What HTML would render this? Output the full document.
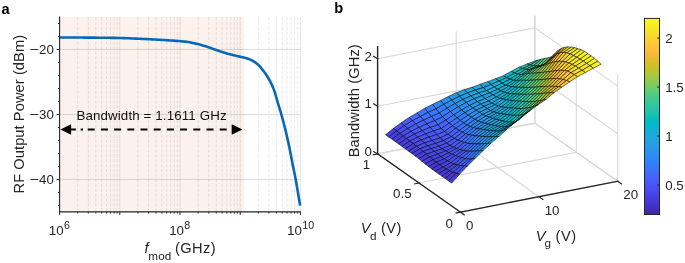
<!DOCTYPE html>
<html lang="en"><head><meta charset="utf-8"><title>Figure</title>
<style>
html,body{margin:0;padding:0;background:#fff;}
body{width:685px;height:263px;overflow:hidden;}
svg{display:block;font-family:"Liberation Sans", Arial, Helvetica, sans-serif;}
</style></head>
<body>
<svg width="685" height="263" viewBox="0 0 685 263">
<rect width="685" height="263" fill="#fff"/>
<rect x="59.6" y="17.0" width="184.4" height="194.9" fill="#fbf2ee"/>
<line x1="59.6" x2="300.4" y1="49.48" y2="49.48" stroke="#000" stroke-opacity="0.13" stroke-width="1"/>
<line x1="59.6" x2="300.4" y1="114.45" y2="114.45" stroke="#000" stroke-opacity="0.13" stroke-width="1"/>
<line x1="59.6" x2="300.4" y1="179.42" y2="179.42" stroke="#000" stroke-opacity="0.13" stroke-width="1"/>
<line x1="119.80" x2="119.80" y1="17.0" y2="211.9" stroke="#000" stroke-opacity="0.05" stroke-width="1"/>
<line x1="119.80" x2="119.80" y1="17.0" y2="211.9" stroke="#000" stroke-opacity="0.09" stroke-width="0.8" stroke-dasharray="3.4 1.5"/>
<line x1="180.00" x2="180.00" y1="17.0" y2="211.9" stroke="#000" stroke-opacity="0.05" stroke-width="1"/>
<line x1="180.00" x2="180.00" y1="17.0" y2="211.9" stroke="#000" stroke-opacity="0.09" stroke-width="0.8" stroke-dasharray="3.4 1.5"/>
<line x1="240.20" x2="240.20" y1="17.0" y2="211.9" stroke="#000" stroke-opacity="0.05" stroke-width="1"/>
<line x1="240.20" x2="240.20" y1="17.0" y2="211.9" stroke="#000" stroke-opacity="0.09" stroke-width="0.8" stroke-dasharray="3.4 1.5"/>
<line x1="300.40" x2="300.40" y1="17.0" y2="211.9" stroke="#000" stroke-opacity="0.05" stroke-width="1"/>
<line x1="300.40" x2="300.40" y1="17.0" y2="211.9" stroke="#000" stroke-opacity="0.09" stroke-width="0.8" stroke-dasharray="3.4 1.5"/>
<line x1="77.72" x2="77.72" y1="17.0" y2="211.9" stroke="#000" stroke-opacity="0.115" stroke-width="0.8" stroke-dasharray="3.4 1.5"/>
<line x1="88.32" x2="88.32" y1="17.0" y2="211.9" stroke="#000" stroke-opacity="0.115" stroke-width="0.8" stroke-dasharray="3.4 1.5"/>
<line x1="95.84" x2="95.84" y1="17.0" y2="211.9" stroke="#000" stroke-opacity="0.115" stroke-width="0.8" stroke-dasharray="3.4 1.5"/>
<line x1="101.68" x2="101.68" y1="17.0" y2="211.9" stroke="#000" stroke-opacity="0.115" stroke-width="0.8" stroke-dasharray="3.4 1.5"/>
<line x1="106.44" x2="106.44" y1="17.0" y2="211.9" stroke="#000" stroke-opacity="0.115" stroke-width="0.8" stroke-dasharray="3.4 1.5"/>
<line x1="110.47" x2="110.47" y1="17.0" y2="211.9" stroke="#000" stroke-opacity="0.115" stroke-width="0.8" stroke-dasharray="3.4 1.5"/>
<line x1="113.97" x2="113.97" y1="17.0" y2="211.9" stroke="#000" stroke-opacity="0.115" stroke-width="0.8" stroke-dasharray="3.4 1.5"/>
<line x1="117.05" x2="117.05" y1="17.0" y2="211.9" stroke="#000" stroke-opacity="0.115" stroke-width="0.8" stroke-dasharray="3.4 1.5"/>
<line x1="137.92" x2="137.92" y1="17.0" y2="211.9" stroke="#000" stroke-opacity="0.115" stroke-width="0.8" stroke-dasharray="3.4 1.5"/>
<line x1="148.52" x2="148.52" y1="17.0" y2="211.9" stroke="#000" stroke-opacity="0.115" stroke-width="0.8" stroke-dasharray="3.4 1.5"/>
<line x1="156.04" x2="156.04" y1="17.0" y2="211.9" stroke="#000" stroke-opacity="0.115" stroke-width="0.8" stroke-dasharray="3.4 1.5"/>
<line x1="161.88" x2="161.88" y1="17.0" y2="211.9" stroke="#000" stroke-opacity="0.115" stroke-width="0.8" stroke-dasharray="3.4 1.5"/>
<line x1="166.64" x2="166.64" y1="17.0" y2="211.9" stroke="#000" stroke-opacity="0.115" stroke-width="0.8" stroke-dasharray="3.4 1.5"/>
<line x1="170.67" x2="170.67" y1="17.0" y2="211.9" stroke="#000" stroke-opacity="0.115" stroke-width="0.8" stroke-dasharray="3.4 1.5"/>
<line x1="174.17" x2="174.17" y1="17.0" y2="211.9" stroke="#000" stroke-opacity="0.115" stroke-width="0.8" stroke-dasharray="3.4 1.5"/>
<line x1="177.25" x2="177.25" y1="17.0" y2="211.9" stroke="#000" stroke-opacity="0.115" stroke-width="0.8" stroke-dasharray="3.4 1.5"/>
<line x1="198.12" x2="198.12" y1="17.0" y2="211.9" stroke="#000" stroke-opacity="0.115" stroke-width="0.8" stroke-dasharray="3.4 1.5"/>
<line x1="208.72" x2="208.72" y1="17.0" y2="211.9" stroke="#000" stroke-opacity="0.115" stroke-width="0.8" stroke-dasharray="3.4 1.5"/>
<line x1="216.24" x2="216.24" y1="17.0" y2="211.9" stroke="#000" stroke-opacity="0.115" stroke-width="0.8" stroke-dasharray="3.4 1.5"/>
<line x1="222.08" x2="222.08" y1="17.0" y2="211.9" stroke="#000" stroke-opacity="0.115" stroke-width="0.8" stroke-dasharray="3.4 1.5"/>
<line x1="226.84" x2="226.84" y1="17.0" y2="211.9" stroke="#000" stroke-opacity="0.115" stroke-width="0.8" stroke-dasharray="3.4 1.5"/>
<line x1="230.87" x2="230.87" y1="17.0" y2="211.9" stroke="#000" stroke-opacity="0.115" stroke-width="0.8" stroke-dasharray="3.4 1.5"/>
<line x1="234.37" x2="234.37" y1="17.0" y2="211.9" stroke="#000" stroke-opacity="0.115" stroke-width="0.8" stroke-dasharray="3.4 1.5"/>
<line x1="237.45" x2="237.45" y1="17.0" y2="211.9" stroke="#000" stroke-opacity="0.115" stroke-width="0.8" stroke-dasharray="3.4 1.5"/>
<line x1="258.32" x2="258.32" y1="17.0" y2="211.9" stroke="#000" stroke-opacity="0.115" stroke-width="0.8" stroke-dasharray="3.4 1.5"/>
<line x1="268.92" x2="268.92" y1="17.0" y2="211.9" stroke="#000" stroke-opacity="0.115" stroke-width="0.8" stroke-dasharray="3.4 1.5"/>
<line x1="276.44" x2="276.44" y1="17.0" y2="211.9" stroke="#000" stroke-opacity="0.115" stroke-width="0.8" stroke-dasharray="3.4 1.5"/>
<line x1="282.28" x2="282.28" y1="17.0" y2="211.9" stroke="#000" stroke-opacity="0.115" stroke-width="0.8" stroke-dasharray="3.4 1.5"/>
<line x1="287.04" x2="287.04" y1="17.0" y2="211.9" stroke="#000" stroke-opacity="0.115" stroke-width="0.8" stroke-dasharray="3.4 1.5"/>
<line x1="291.07" x2="291.07" y1="17.0" y2="211.9" stroke="#000" stroke-opacity="0.115" stroke-width="0.8" stroke-dasharray="3.4 1.5"/>
<line x1="294.57" x2="294.57" y1="17.0" y2="211.9" stroke="#000" stroke-opacity="0.115" stroke-width="0.8" stroke-dasharray="3.4 1.5"/>
<line x1="297.65" x2="297.65" y1="17.0" y2="211.9" stroke="#000" stroke-opacity="0.115" stroke-width="0.8" stroke-dasharray="3.4 1.5"/>
<path d="M59.60,37.50 L61.11,37.50 L62.63,37.50 L64.14,37.50 L65.65,37.51 L67.17,37.51 L68.68,37.51 L70.19,37.52 L71.71,37.52 L73.22,37.53 L74.73,37.54 L76.25,37.54 L77.76,37.55 L79.27,37.56 L80.78,37.57 L82.30,37.57 L83.81,37.58 L85.32,37.59 L86.84,37.60 L88.35,37.61 L89.86,37.62 L91.38,37.63 L92.89,37.65 L94.40,37.66 L95.92,37.67 L97.43,37.68 L98.94,37.69 L100.46,37.70 L101.97,37.72 L103.48,37.73 L105.00,37.75 L106.51,37.77 L108.02,37.79 L109.54,37.81 L111.05,37.83 L112.56,37.86 L114.08,37.88 L115.59,37.91 L117.10,37.94 L118.62,37.97 L120.13,38.00 L121.64,38.04 L123.15,38.08 L124.67,38.13 L126.18,38.19 L127.69,38.25 L129.21,38.31 L130.72,38.37 L132.23,38.44 L133.75,38.51 L135.26,38.58 L136.77,38.65 L138.29,38.72 L139.80,38.79 L141.31,38.86 L142.83,38.93 L144.34,39.00 L145.85,39.07 L147.37,39.15 L148.88,39.22 L150.39,39.30 L151.91,39.38 L153.42,39.46 L154.93,39.54 L156.45,39.63 L157.96,39.71 L159.47,39.80 L160.98,39.89 L162.50,39.98 L164.01,40.07 L165.52,40.16 L167.04,40.26 L168.55,40.35 L170.06,40.44 L171.58,40.53 L173.09,40.63 L174.60,40.73 L176.12,40.84 L177.63,40.95 L179.14,41.07 L180.66,41.20 L182.17,41.34 L183.68,41.49 L185.20,41.65 L186.71,41.84 L188.22,42.06 L189.74,42.33 L191.25,42.62 L192.76,42.94 L194.28,43.27 L195.79,43.62 L197.30,43.97 L198.82,44.35 L200.33,44.76 L201.84,45.19 L203.35,45.64 L204.87,46.11 L206.38,46.59 L207.89,47.07 L209.41,47.56 L210.92,48.08 L212.43,48.62 L213.95,49.17 L215.46,49.72 L216.97,50.27 L218.49,50.80 L220.00,51.30 L221.51,51.79 L223.03,52.26 L224.54,52.73 L226.05,53.19 L227.57,53.63 L229.08,54.05 L230.59,54.46 L232.11,54.84 L233.62,55.21 L235.13,55.57 L236.65,55.92 L238.16,56.27 L239.67,56.62 L241.18,56.97 L242.70,57.29 L244.21,57.64 L245.72,58.04 L247.24,58.50 L248.75,59.03 L250.26,59.64 L251.78,60.33 L253.29,61.14 L254.80,62.08 L256.32,63.17 L257.83,64.42 L259.34,65.96 L260.86,67.72 L262.37,69.59 L263.88,71.51 L265.40,73.55 L266.91,75.78 L268.42,78.24 L269.94,80.95 L271.45,83.96 L272.96,87.36 L274.48,91.28 L275.99,96.42 L277.50,101.67 L279.02,106.62 L280.53,111.63 L282.04,116.94 L283.55,122.49 L285.07,128.37 L286.58,134.69 L288.09,141.40 L289.61,148.55 L291.12,156.42 L292.63,164.19 L294.15,171.56 L295.66,179.33 L297.17,188.06 L298.69,197.00 L300.20,205.60" fill="none" stroke="#0868b4" stroke-width="2.6" stroke-linejoin="round" stroke-linecap="butt"/>
<path d="M59.6,16.6 V211.9 H300.9" fill="none" stroke="#262626" stroke-width="1.1"/>
<line x1="57.90" x2="59.6" y1="205.40" y2="205.40" stroke="#262626" stroke-width="1"/>
<line x1="57.90" x2="59.6" y1="192.41" y2="192.41" stroke="#262626" stroke-width="1"/>
<line x1="56.60" x2="59.6" y1="179.42" y2="179.42" stroke="#262626" stroke-width="1"/>
<line x1="57.90" x2="59.6" y1="166.42" y2="166.42" stroke="#262626" stroke-width="1"/>
<line x1="57.90" x2="59.6" y1="153.43" y2="153.43" stroke="#262626" stroke-width="1"/>
<line x1="57.90" x2="59.6" y1="140.44" y2="140.44" stroke="#262626" stroke-width="1"/>
<line x1="57.90" x2="59.6" y1="127.44" y2="127.44" stroke="#262626" stroke-width="1"/>
<line x1="56.60" x2="59.6" y1="114.45" y2="114.45" stroke="#262626" stroke-width="1"/>
<line x1="57.90" x2="59.6" y1="101.46" y2="101.46" stroke="#262626" stroke-width="1"/>
<line x1="57.90" x2="59.6" y1="88.46" y2="88.46" stroke="#262626" stroke-width="1"/>
<line x1="57.90" x2="59.6" y1="75.47" y2="75.47" stroke="#262626" stroke-width="1"/>
<line x1="57.90" x2="59.6" y1="62.48" y2="62.48" stroke="#262626" stroke-width="1"/>
<line x1="56.60" x2="59.6" y1="49.48" y2="49.48" stroke="#262626" stroke-width="1"/>
<line x1="57.90" x2="59.6" y1="36.49" y2="36.49" stroke="#262626" stroke-width="1"/>
<line x1="57.90" x2="59.6" y1="23.50" y2="23.50" stroke="#262626" stroke-width="1"/>
<line x1="59.60" x2="59.60" y1="211.9" y2="214.90" stroke="#262626" stroke-width="1"/>
<line x1="77.72" x2="77.72" y1="211.9" y2="213.60" stroke="#262626" stroke-width="0.9"/>
<line x1="88.32" x2="88.32" y1="211.9" y2="213.60" stroke="#262626" stroke-width="0.9"/>
<line x1="95.84" x2="95.84" y1="211.9" y2="213.60" stroke="#262626" stroke-width="0.9"/>
<line x1="101.68" x2="101.68" y1="211.9" y2="213.60" stroke="#262626" stroke-width="0.9"/>
<line x1="106.44" x2="106.44" y1="211.9" y2="213.60" stroke="#262626" stroke-width="0.9"/>
<line x1="110.47" x2="110.47" y1="211.9" y2="213.60" stroke="#262626" stroke-width="0.9"/>
<line x1="113.97" x2="113.97" y1="211.9" y2="213.60" stroke="#262626" stroke-width="0.9"/>
<line x1="117.05" x2="117.05" y1="211.9" y2="213.60" stroke="#262626" stroke-width="0.9"/>
<line x1="119.80" x2="119.80" y1="211.9" y2="214.90" stroke="#262626" stroke-width="1"/>
<line x1="137.92" x2="137.92" y1="211.9" y2="213.60" stroke="#262626" stroke-width="0.9"/>
<line x1="148.52" x2="148.52" y1="211.9" y2="213.60" stroke="#262626" stroke-width="0.9"/>
<line x1="156.04" x2="156.04" y1="211.9" y2="213.60" stroke="#262626" stroke-width="0.9"/>
<line x1="161.88" x2="161.88" y1="211.9" y2="213.60" stroke="#262626" stroke-width="0.9"/>
<line x1="166.64" x2="166.64" y1="211.9" y2="213.60" stroke="#262626" stroke-width="0.9"/>
<line x1="170.67" x2="170.67" y1="211.9" y2="213.60" stroke="#262626" stroke-width="0.9"/>
<line x1="174.17" x2="174.17" y1="211.9" y2="213.60" stroke="#262626" stroke-width="0.9"/>
<line x1="177.25" x2="177.25" y1="211.9" y2="213.60" stroke="#262626" stroke-width="0.9"/>
<line x1="180.00" x2="180.00" y1="211.9" y2="214.90" stroke="#262626" stroke-width="1"/>
<line x1="198.12" x2="198.12" y1="211.9" y2="213.60" stroke="#262626" stroke-width="0.9"/>
<line x1="208.72" x2="208.72" y1="211.9" y2="213.60" stroke="#262626" stroke-width="0.9"/>
<line x1="216.24" x2="216.24" y1="211.9" y2="213.60" stroke="#262626" stroke-width="0.9"/>
<line x1="222.08" x2="222.08" y1="211.9" y2="213.60" stroke="#262626" stroke-width="0.9"/>
<line x1="226.84" x2="226.84" y1="211.9" y2="213.60" stroke="#262626" stroke-width="0.9"/>
<line x1="230.87" x2="230.87" y1="211.9" y2="213.60" stroke="#262626" stroke-width="0.9"/>
<line x1="234.37" x2="234.37" y1="211.9" y2="213.60" stroke="#262626" stroke-width="0.9"/>
<line x1="237.45" x2="237.45" y1="211.9" y2="213.60" stroke="#262626" stroke-width="0.9"/>
<line x1="240.20" x2="240.20" y1="211.9" y2="214.90" stroke="#262626" stroke-width="1"/>
<line x1="258.32" x2="258.32" y1="211.9" y2="213.60" stroke="#262626" stroke-width="0.9"/>
<line x1="268.92" x2="268.92" y1="211.9" y2="213.60" stroke="#262626" stroke-width="0.9"/>
<line x1="276.44" x2="276.44" y1="211.9" y2="213.60" stroke="#262626" stroke-width="0.9"/>
<line x1="282.28" x2="282.28" y1="211.9" y2="213.60" stroke="#262626" stroke-width="0.9"/>
<line x1="287.04" x2="287.04" y1="211.9" y2="213.60" stroke="#262626" stroke-width="0.9"/>
<line x1="291.07" x2="291.07" y1="211.9" y2="213.60" stroke="#262626" stroke-width="0.9"/>
<line x1="294.57" x2="294.57" y1="211.9" y2="213.60" stroke="#262626" stroke-width="0.9"/>
<line x1="297.65" x2="297.65" y1="211.9" y2="213.60" stroke="#262626" stroke-width="0.9"/>
<line x1="300.40" x2="300.40" y1="211.9" y2="214.90" stroke="#262626" stroke-width="1"/>
<text x="29.4" y="54.28" font-size="13.33" fill="#262626"><tspan textLength="9.6" lengthAdjust="spacingAndGlyphs">−</tspan><tspan x="39.0">20</tspan></text>
<text x="29.4" y="119.25" font-size="13.33" fill="#262626"><tspan textLength="9.6" lengthAdjust="spacingAndGlyphs">−</tspan><tspan x="39.0">30</tspan></text>
<text x="29.4" y="184.22" font-size="13.33" fill="#262626"><tspan textLength="9.6" lengthAdjust="spacingAndGlyphs">−</tspan><tspan x="39.0">40</tspan></text>
<text x="48.77" y="234.9" font-size="13.33" fill="#262626">10<tspan dx="0.3" dy="-6.0" font-size="10.67">6</tspan></text>
<text x="169.17" y="234.9" font-size="13.33" fill="#262626">10<tspan dx="0.3" dy="-6.0" font-size="10.67">8</tspan></text>
<text x="287.10" y="234.9" font-size="13.33" fill="#262626">10<tspan dx="0.3" dy="-6.0" font-size="10.67">10</tspan></text>
<text transform="translate(23.9,193.5) rotate(-90)" font-size="14.67" textLength="158.6" lengthAdjust="spacing" fill="#262626">RF Output Power (dBm)</text>
<text y="252.7" font-size="14.67" fill="#262626"><tspan x="144.6" font-style="italic">f</tspan><tspan x="148.2" dy="7.3" font-size="11.73" textLength="23.2" lengthAdjust="spacing">mod</tspan><tspan x="175.0" dy="-7.3" font-size="14.67" textLength="40.6" lengthAdjust="spacing">(GHz)</tspan></text>
<text x="76.4" y="119.8" font-size="13.33" textLength="150.2" lengthAdjust="spacing" fill="#111">Bandwidth = 1.1611 GHz</text>
<line x1="70" x2="75.9" y1="129.5" y2="129.5" stroke="#000" stroke-width="2"/>
<line x1="80.7" x2="83" y1="129.5" y2="129.5" stroke="#000" stroke-width="2"/>
<line x1="87.7" x2="227" y1="129.5" y2="129.5" stroke="#000" stroke-width="2" stroke-dasharray="7 6.2"/>
<path d="M60.4,129.5 L71.1,124.2 L71.1,134.8 Z" fill="#000"/>
<path d="M242.4,129.5 L231.7,124.2 L231.7,134.8 Z" fill="#000"/>
<text x="1.6" y="13.6" font-size="14.67" font-weight="bold" fill="#000">a</text>
<text x="334.2" y="12.6" font-size="14.67" font-weight="bold" fill="#000">b</text>
<line x1="377.60" y1="153.90" x2="534.90" y2="123.10" stroke="#d8d8d8" stroke-width="1.1"/>
<line x1="419.00" y1="183.00" x2="576.30" y2="152.20" stroke="#d8d8d8" stroke-width="1.1"/>
<line x1="460.40" y1="212.10" x2="617.70" y2="181.30" stroke="#d8d8d8" stroke-width="1.1"/>
<line x1="377.60" y1="153.90" x2="460.40" y2="212.10" stroke="#d8d8d8" stroke-width="1.1"/>
<line x1="456.25" y1="138.50" x2="539.05" y2="196.70" stroke="#d8d8d8" stroke-width="1.1"/>
<line x1="534.90" y1="123.10" x2="617.70" y2="181.30" stroke="#d8d8d8" stroke-width="1.1"/>
<line x1="377.60" y1="153.90" x2="377.60" y2="46.61" stroke="#d8d8d8" stroke-width="1.1"/>
<line x1="456.25" y1="138.50" x2="456.25" y2="31.21" stroke="#d8d8d8" stroke-width="1.1"/>
<line x1="534.90" y1="123.10" x2="534.90" y2="15.81" stroke="#d8d8d8" stroke-width="1.1"/>
<line x1="377.60" y1="153.90" x2="534.90" y2="123.10" stroke="#d8d8d8" stroke-width="1.1"/>
<line x1="377.60" y1="106.30" x2="534.90" y2="75.50" stroke="#d8d8d8" stroke-width="1.1"/>
<line x1="377.60" y1="58.70" x2="534.90" y2="27.90" stroke="#d8d8d8" stroke-width="1.1"/>
<line x1="534.90" y1="123.10" x2="534.90" y2="15.81" stroke="#d8d8d8" stroke-width="1.1"/>
<line x1="576.30" y1="152.20" x2="576.30" y2="44.91" stroke="#d8d8d8" stroke-width="1.1"/>
<line x1="617.70" y1="181.30" x2="617.70" y2="74.01" stroke="#d8d8d8" stroke-width="1.1"/>
<line x1="534.90" y1="123.10" x2="617.70" y2="181.30" stroke="#d8d8d8" stroke-width="1.1"/>
<line x1="534.90" y1="75.50" x2="617.70" y2="133.70" stroke="#d8d8d8" stroke-width="1.1"/>
<line x1="534.90" y1="27.90" x2="617.70" y2="86.10" stroke="#d8d8d8" stroke-width="1.1"/>
<g stroke="#000" stroke-width="0.55" stroke-linejoin="round">
<polygon points="527.04,63.95 534.90,60.89 538.21,60.00 530.35,64.94" fill="#30c5a1"/>
<polygon points="519.17,67.16 527.04,63.95 530.35,64.94 522.48,68.58" fill="#27c2ac"/>
<polygon points="511.31,71.31 519.17,67.16 522.48,68.58 514.62,73.02" fill="#11beb9"/>
<polygon points="530.35,64.94 538.21,60.00 541.52,59.13 533.66,65.54" fill="#36c898"/>
<polygon points="503.44,75.71 511.31,71.31 514.62,73.02 506.75,77.70" fill="#01b9c8"/>
<polygon points="522.48,68.58 530.35,64.94 533.66,65.54 525.79,69.38" fill="#2ec4a4"/>
<polygon points="495.58,78.68 503.44,75.71 506.75,77.70 498.89,80.96" fill="#06b5cf"/>
<polygon points="514.62,73.02 522.48,68.58 525.79,69.38 517.93,74.09" fill="#1cc0b4"/>
<polygon points="533.66,65.54 541.52,59.13 544.84,58.36 536.97,65.83" fill="#42ca8c"/>
<polygon points="506.75,77.70 514.62,73.02 517.93,74.09 510.06,79.20" fill="#02bac4"/>
<polygon points="487.71,81.65 495.58,78.68 498.89,80.96 491.02,84.50" fill="#12b1d7"/>
<polygon points="525.79,69.38 533.66,65.54 536.97,65.83 529.11,69.68" fill="#35c799"/>
<polygon points="498.89,80.96 506.75,77.70 510.06,79.20 502.20,83.18" fill="#06b6ce"/>
<polygon points="479.85,84.38 487.71,81.65 491.02,84.50 483.16,87.67" fill="#19addc"/>
<polygon points="517.93,74.09 525.79,69.38 529.11,69.68 521.24,74.69" fill="#27c2ab"/>
<polygon points="536.97,65.83 544.84,58.36 548.15,57.78 540.28,65.66" fill="#55cc7b"/>
<polygon points="491.02,84.50 498.89,80.96 502.20,83.18 494.33,87.00" fill="#13b0d7"/>
<polygon points="510.06,79.20 517.93,74.09 521.24,74.69 513.38,80.31" fill="#08bcbe"/>
<polygon points="471.98,87.25 479.85,84.38 483.16,87.67 475.29,90.13" fill="#1caadf"/>
<polygon points="529.11,69.68 536.97,65.83 540.28,65.66 532.42,68.90" fill="#48cb87"/>
<polygon points="502.20,83.18 510.06,79.20 513.38,80.31 505.51,85.15" fill="#04b6cd"/>
<polygon points="483.16,87.67 491.02,84.50 494.33,87.00 486.47,90.57" fill="#1babde"/>
<polygon points="464.12,89.84 471.98,87.25 475.29,90.13 467.43,92.93" fill="#1fa6e1"/>
<polygon points="521.24,74.69 529.11,69.68 532.42,68.90 524.55,74.11" fill="#33c79d"/>
<polygon points="494.33,87.00 502.20,83.18 505.51,85.15 497.65,89.25" fill="#13b1d7"/>
<polygon points="475.29,90.13 483.16,87.67 486.47,90.57 478.60,92.96" fill="#1da9e0"/>
<polygon points="540.28,65.66 548.15,57.78 551.46,56.68 543.60,64.88" fill="#71cd64"/>
<polygon points="513.38,80.31 521.24,74.69 524.55,74.11 516.69,80.37" fill="#1bc0b4"/>
<polygon points="456.25,92.80 464.12,89.84 467.43,92.93 459.56,96.25" fill="#23a1e4"/>
<polygon points="486.47,90.57 494.33,87.00 497.65,89.25 489.78,92.94" fill="#1babde"/>
<polygon points="532.42,68.90 540.28,65.66 543.60,64.88 535.73,67.85" fill="#64cd6f"/>
<polygon points="505.51,85.15 513.38,80.31 516.69,80.37 508.82,86.14" fill="#01b9c7"/>
<polygon points="467.43,92.93 475.29,90.13 478.60,92.96 470.74,95.89" fill="#20a5e3"/>
<polygon points="448.39,96.45 456.25,92.80 459.56,96.25 451.70,100.12" fill="#269ae9"/>
<polygon points="497.65,89.25 505.51,85.15 508.82,86.14 500.96,90.94" fill="#0fb2d5"/>
<polygon points="524.55,74.11 532.42,68.90 535.73,67.85 527.87,73.43" fill="#43ca8b"/>
<polygon points="478.60,92.96 486.47,90.57 489.78,92.94 481.92,95.76" fill="#1ea7e1"/>
<polygon points="459.56,96.25 467.43,92.93 470.74,95.89 462.87,99.48" fill="#249ee6"/>
<polygon points="440.52,100.41 448.39,96.45 451.70,100.12 443.83,104.35" fill="#2b91ef"/>
<polygon points="516.69,80.37 524.55,74.11 527.87,73.43 520.00,80.21" fill="#2bc3a8"/>
<polygon points="543.60,64.88 551.46,56.68 554.77,53.86 546.91,62.74" fill="#9cc944"/>
<polygon points="489.78,92.94 497.65,89.25 500.96,90.94 493.09,95.03" fill="#1aacdd"/>
<polygon points="470.74,95.89 478.60,92.96 481.92,95.76 474.05,98.74" fill="#21a3e3"/>
<polygon points="451.70,100.12 459.56,96.25 462.87,99.48 455.01,103.57" fill="#2896eb"/>
<polygon points="508.82,86.14 516.69,80.37 520.00,80.21 512.13,86.75" fill="#07bcc0"/>
<polygon points="432.66,104.33 440.52,100.41 443.83,104.35 435.97,108.88" fill="#2e86f7"/>
<polygon points="535.73,67.85 543.60,64.88 546.91,62.74 539.04,66.92" fill="#83cc57"/>
<polygon points="481.92,95.76 489.78,92.94 493.09,95.03 485.23,98.57" fill="#1fa6e2"/>
<polygon points="500.96,90.94 508.82,86.14 512.13,86.75 504.27,92.33" fill="#09b4d1"/>
<polygon points="462.87,99.48 470.74,95.89 474.05,98.74 466.19,102.49" fill="#259ce7"/>
<polygon points="443.83,104.35 451.70,100.12 455.01,103.57 447.14,108.06" fill="#2d8cf3"/>
<polygon points="527.87,73.43 535.73,67.85 539.04,66.92 531.18,73.26" fill="#57cc7a"/>
<polygon points="424.79,108.25 432.66,104.33 435.97,108.88 428.10,112.44" fill="#307ffb"/>
<polygon points="493.09,95.03 500.96,90.94 504.27,92.33 496.41,96.97" fill="#19addc"/>
<polygon points="520.00,80.21 527.87,73.43 531.18,73.26 523.31,80.29" fill="#33c79c"/>
<polygon points="474.05,98.74 481.92,95.76 485.23,98.57 477.36,101.55" fill="#22a1e4"/>
<polygon points="455.01,103.57 462.87,99.48 466.19,102.49 458.32,106.79" fill="#2a93ed"/>
<polygon points="435.97,108.88 443.83,104.35 447.14,108.06 439.28,113.03" fill="#3080fb"/>
<polygon points="416.93,112.88 424.79,108.25 428.10,112.44 420.24,116.57" fill="#3974fe"/>
<polygon points="546.91,62.74 554.77,53.86 558.08,50.36 550.22,59.69" fill="#cbc129"/>
<polygon points="512.13,86.75 520.00,80.21 523.31,80.29 515.45,87.17" fill="#16bfb7"/>
<polygon points="485.23,98.57 493.09,95.03 496.41,96.97 488.54,101.13" fill="#1fa5e2"/>
<polygon points="539.04,66.92 546.91,62.74 550.22,59.69 542.35,65.88" fill="#a3c83f"/>
<polygon points="466.19,102.49 474.05,98.74 477.36,101.55 469.50,105.42" fill="#269ae8"/>
<polygon points="447.14,108.06 455.01,103.57 458.32,106.79 450.46,111.50" fill="#2d88f6"/>
<polygon points="428.10,112.44 435.97,108.88 439.28,113.03 431.41,116.56" fill="#3678fe"/>
<polygon points="504.27,92.33 512.13,86.75 515.45,87.17 507.58,93.27" fill="#02b7cb"/>
<polygon points="409.06,117.51 416.93,112.88 420.24,116.57 412.37,120.79" fill="#426afe"/>
<polygon points="531.18,73.26 539.04,66.92 542.35,65.88 534.49,73.16" fill="#6ccd68"/>
<polygon points="439.28,113.03 447.14,108.06 450.46,111.50 442.59,116.70" fill="#337afd"/>
<polygon points="477.36,101.55 485.23,98.57 488.54,101.13 480.68,104.09" fill="#23a1e4"/>
<polygon points="496.41,96.97 504.27,92.33 507.58,93.27 499.72,98.33" fill="#15afd9"/>
<polygon points="458.32,106.79 466.19,102.49 469.50,105.42 461.63,109.91" fill="#2b90ef"/>
<polygon points="420.24,116.57 428.10,112.44 431.41,116.56 423.55,120.22" fill="#3e6fff"/>
<polygon points="401.20,122.86 409.06,117.51 412.37,120.79 404.51,125.64" fill="#465dfa"/>
<polygon points="523.31,80.29 531.18,73.26 534.49,73.16 526.62,80.33" fill="#3eca8f"/>
<polygon points="515.45,87.17 523.31,80.29 526.62,80.33 518.76,87.28" fill="#26c2ac"/>
<polygon points="431.41,116.56 439.28,113.03 442.59,116.70 434.73,120.66" fill="#3d70ff"/>
<polygon points="488.54,101.13 496.41,96.97 499.72,98.33 491.85,103.09" fill="#1fa6e1"/>
<polygon points="450.46,111.50 458.32,106.79 461.63,109.91 453.77,114.82" fill="#2e85f8"/>
<polygon points="393.33,128.45 401.20,122.86 404.51,125.64 396.64,130.97" fill="#484ff2"/>
<polygon points="469.50,105.42 477.36,101.55 480.68,104.09 472.81,108.01" fill="#2699e9"/>
<polygon points="550.22,59.69 558.08,50.36 561.40,48.39 553.53,57.01" fill="#eeba34"/>
<polygon points="412.37,120.79 420.24,116.57 423.55,120.22 415.68,124.07" fill="#4466fd"/>
<polygon points="507.58,93.27 515.45,87.17 518.76,87.28 510.89,93.69" fill="#02bbc3"/>
<polygon points="542.35,65.88 550.22,59.69 553.53,57.01 545.67,64.74" fill="#c1c32c"/>
<polygon points="385.47,134.80 393.33,128.45 396.64,130.97 388.78,137.04" fill="#463ee1"/>
<polygon points="442.59,116.70 450.46,111.50 453.77,114.82 445.90,120.13" fill="#3876fe"/>
<polygon points="423.55,120.22 431.41,116.56 434.73,120.66 426.86,123.84" fill="#426afe"/>
<polygon points="480.68,104.09 488.54,101.13 491.85,103.09 483.99,106.38" fill="#23a1e4"/>
<polygon points="461.63,109.91 469.50,105.42 472.81,108.01 464.95,112.67" fill="#2c8ff1"/>
<polygon points="404.51,125.64 412.37,120.79 415.68,124.07 407.82,128.45" fill="#475bf9"/>
<polygon points="534.49,73.16 542.35,65.88 545.67,64.74 537.80,72.93" fill="#85cb56"/>
<polygon points="499.72,98.33 507.58,93.27 510.89,93.69 503.03,99.09" fill="#0db3d3"/>
<polygon points="526.62,80.33 534.49,73.16 537.80,72.93 529.94,80.28" fill="#50cc80"/>
<polygon points="434.73,120.66 442.59,116.70 445.90,120.13 438.04,124.85" fill="#4269fe"/>
<polygon points="453.77,114.82 461.63,109.91 464.95,112.67 457.08,117.76" fill="#2f82f9"/>
<polygon points="396.64,130.97 404.51,125.64 407.82,128.45 399.95,133.48" fill="#484ef1"/>
<polygon points="415.68,124.07 423.55,120.22 426.86,123.84 419.00,127.36" fill="#4562fc"/>
<polygon points="472.81,108.01 480.68,104.09 483.99,106.38 476.12,110.25" fill="#269ae9"/>
<polygon points="491.85,103.09 499.72,98.33 503.03,99.09 495.16,104.58" fill="#1da9e0"/>
<polygon points="518.76,87.28 526.62,80.33 529.94,80.28 522.07,87.39" fill="#30c5a1"/>
<polygon points="445.90,120.13 453.77,114.82 457.08,117.76 449.22,123.11" fill="#3a73fe"/>
<polygon points="388.78,137.04 396.64,130.97 399.95,133.48 392.09,139.32" fill="#463ee1"/>
<polygon points="426.86,123.84 434.73,120.66 438.04,124.85 430.17,127.43" fill="#4465fd"/>
<polygon points="553.53,57.01 561.40,48.39 564.71,47.29 556.84,54.31" fill="#fec438"/>
<polygon points="510.89,93.69 518.76,87.28 522.07,87.39 514.21,94.03" fill="#10beba"/>
<polygon points="464.95,112.67 472.81,108.01 476.12,110.25 468.26,115.07" fill="#2c8ff1"/>
<polygon points="407.82,128.45 415.68,124.07 419.00,127.36 411.13,131.30" fill="#4759f8"/>
<polygon points="483.99,106.38 491.85,103.09 495.16,104.58 487.30,108.59" fill="#22a1e4"/>
<polygon points="545.67,64.74 553.53,57.01 556.84,54.31 548.98,63.42" fill="#ddbd29"/>
<polygon points="503.03,99.09 510.89,93.69 514.21,94.03 506.34,99.81" fill="#04b6cd"/>
<polygon points="438.04,124.85 445.90,120.13 449.22,123.11 441.35,128.45" fill="#4564fd"/>
<polygon points="537.80,72.93 545.67,64.74 548.98,63.42 541.11,72.60" fill="#9ec942"/>
<polygon points="457.08,117.76 464.95,112.67 468.26,115.07 460.39,120.37" fill="#2f81fa"/>
<polygon points="419.00,127.36 426.86,123.84 430.17,127.43 422.31,130.65" fill="#465efb"/>
<polygon points="399.95,133.48 407.82,128.45 411.13,131.30 403.27,136.00" fill="#484df1"/>
<polygon points="529.94,80.28 537.80,72.93 541.11,72.60 533.25,80.14" fill="#65cd6e"/>
<polygon points="476.12,110.25 483.99,106.38 487.30,108.59 479.43,112.34" fill="#269ae8"/>
<polygon points="495.16,104.58 503.03,99.09 506.34,99.81 498.48,105.92" fill="#1aabdd"/>
<polygon points="522.07,87.39 529.94,80.28 533.25,80.14 525.38,87.45" fill="#39c895"/>
<polygon points="430.17,127.43 438.04,124.85 441.35,128.45 433.49,130.95" fill="#4660fc"/>
<polygon points="449.22,123.11 457.08,117.76 460.39,120.37 452.53,125.72" fill="#3b72ff"/>
<polygon points="392.09,139.32 399.95,133.48 403.27,136.00 395.40,141.64" fill="#463ee1"/>
<polygon points="411.13,131.30 419.00,127.36 422.31,130.65 414.44,134.21" fill="#4757f7"/>
<polygon points="468.26,115.07 476.12,110.25 479.43,112.34 471.57,117.33" fill="#2c8ff1"/>
<polygon points="514.21,94.03 522.07,87.39 525.38,87.45 517.52,94.16" fill="#22c1b0"/>
<polygon points="487.30,108.59 495.16,104.58 498.48,105.92 490.61,110.62" fill="#22a2e4"/>
<polygon points="556.84,54.31 564.71,47.29 568.02,46.90 560.15,52.72" fill="#fad42e"/>
<polygon points="441.35,128.45 449.22,123.11 452.53,125.72 444.66,131.47" fill="#4561fc"/>
<polygon points="422.31,130.65 430.17,127.43 433.49,130.95 425.62,133.91" fill="#475bf9"/>
<polygon points="548.98,63.42 556.84,54.31 560.15,52.72 552.29,62.35" fill="#f2ba38"/>
<polygon points="506.34,99.81 514.21,94.03 517.52,94.16 509.65,100.35" fill="#02bac5"/>
<polygon points="460.39,120.37 468.26,115.07 471.57,117.33 463.70,122.87" fill="#2f81fa"/>
<polygon points="403.27,136.00 411.13,131.30 414.44,134.21 406.58,138.51" fill="#484df0"/>
<polygon points="541.11,72.60 548.98,63.42 552.29,62.35 544.43,72.22" fill="#b6c532"/>
<polygon points="479.43,112.34 487.30,108.59 490.61,110.62 482.75,114.30" fill="#259be7"/>
<polygon points="533.25,80.14 541.11,72.60 544.43,72.22 536.56,79.95" fill="#7dcc5c"/>
<polygon points="433.49,130.95 441.35,128.45 444.66,131.47 436.80,134.56" fill="#475cfa"/>
<polygon points="498.48,105.92 506.34,99.81 509.65,100.35 501.79,106.85" fill="#15afd9"/>
<polygon points="452.53,125.72 460.39,120.37 463.70,122.87 455.84,128.21" fill="#3c71ff"/>
<polygon points="395.40,141.64 403.27,136.00 406.58,138.51 398.71,144.01" fill="#463ee1"/>
<polygon points="414.44,134.21 422.31,130.65 425.62,133.91 417.76,137.12" fill="#4755f6"/>
<polygon points="525.38,87.45 533.25,80.14 536.56,79.95 528.70,87.44" fill="#48cb86"/>
<polygon points="471.57,117.33 479.43,112.34 482.75,114.30 474.88,119.40" fill="#2c90f0"/>
<polygon points="490.61,110.62 498.48,105.92 501.79,106.85 493.92,111.90" fill="#1fa5e2"/>
<polygon points="444.66,131.47 452.53,125.72 455.84,128.21 447.97,134.24" fill="#4660fb"/>
<polygon points="517.52,94.16 525.38,87.45 528.70,87.44 520.83,94.22" fill="#2ec4a5"/>
<polygon points="425.62,133.91 433.49,130.95 436.80,134.56 428.93,137.17" fill="#4758f8"/>
<polygon points="560.15,52.72 568.02,46.90 571.33,47.12 563.47,52.44" fill="#f6df29"/>
<polygon points="406.58,138.51 414.44,134.21 417.76,137.12 409.89,141.04" fill="#484cef"/>
<polygon points="463.70,122.87 471.57,117.33 474.88,119.40 467.02,125.09" fill="#2f81fa"/>
<polygon points="509.65,100.35 517.52,94.16 520.83,94.22 512.97,100.75" fill="#0bbdbc"/>
<polygon points="552.29,62.35 560.15,52.72 563.47,52.44 555.60,61.63" fill="#fec03b"/>
<polygon points="482.75,114.30 490.61,110.62 493.92,111.90 486.06,115.89" fill="#249ee6"/>
<polygon points="436.80,134.56 444.66,131.47 447.97,134.24 440.11,137.98" fill="#4757f8"/>
<polygon points="544.43,72.22 552.29,62.35 555.60,61.63 547.74,71.80" fill="#cdc028"/>
<polygon points="455.84,128.21 463.70,122.87 467.02,125.09 459.15,130.49" fill="#3c72ff"/>
<polygon points="536.56,79.95 544.43,72.22 547.74,71.80 539.87,79.74" fill="#95ca49"/>
<polygon points="501.79,106.85 509.65,100.35 512.97,100.75 505.10,107.53" fill="#0cb3d3"/>
<polygon points="417.76,137.12 425.62,133.91 428.93,137.17 421.07,140.03" fill="#4853f4"/>
<polygon points="398.71,144.01 406.58,138.51 409.89,141.04 402.03,146.39" fill="#463ee1"/>
<polygon points="474.88,119.40 482.75,114.30 486.06,115.89 478.19,120.96" fill="#2a92ee"/>
<polygon points="528.70,87.44 536.56,79.95 539.87,79.74 532.01,87.34" fill="#5ccc76"/>
<polygon points="447.97,134.24 455.84,128.21 459.15,130.49 451.29,136.56" fill="#4660fb"/>
<polygon points="428.93,137.17 436.80,134.56 440.11,137.98 432.24,140.37" fill="#4854f6"/>
<polygon points="493.92,111.90 501.79,106.85 505.10,107.53 497.24,112.88" fill="#1ca9df"/>
<polygon points="520.83,94.22 528.70,87.44 532.01,87.34 524.14,94.30" fill="#36c899"/>
<polygon points="409.89,141.04 417.76,137.12 421.07,140.03 413.20,143.63" fill="#484bef"/>
<polygon points="467.02,125.09 474.88,119.40 478.19,120.96 470.33,126.57" fill="#2e84f8"/>
<polygon points="563.47,52.44 571.33,47.12 574.64,47.74 566.78,52.81" fill="#f5e725"/>
<polygon points="440.11,137.98 447.97,134.24 451.29,136.56 443.42,140.63" fill="#4756f7"/>
<polygon points="486.06,115.89 493.92,111.90 497.24,112.88 489.37,117.27" fill="#23a1e4"/>
<polygon points="512.97,100.75 520.83,94.22 524.14,94.30 516.28,101.05" fill="#1dc0b3"/>
<polygon points="555.60,61.63 563.47,52.44 566.78,52.81 558.91,61.23" fill="#feca33"/>
<polygon points="421.07,140.03 428.93,137.17 432.24,140.37 424.38,142.94" fill="#4851f3"/>
<polygon points="459.15,130.49 467.02,125.09 470.33,126.57 462.46,132.27" fill="#3a74fe"/>
<polygon points="402.03,146.39 409.89,141.04 413.20,143.63 405.34,148.78" fill="#463de0"/>
<polygon points="547.74,71.80 555.60,61.63 558.91,61.23 551.05,71.34" fill="#e1bc2b"/>
<polygon points="505.10,107.53 512.97,100.75 516.28,101.05 508.41,107.92" fill="#02b7cb"/>
<polygon points="539.87,79.74 547.74,71.80 551.05,71.34 543.18,79.48" fill="#adc638"/>
<polygon points="478.19,120.96 486.06,115.89 489.37,117.27 481.51,122.27" fill="#2896ec"/>
<polygon points="432.24,140.37 440.11,137.98 443.42,140.63 435.56,143.36" fill="#4852f4"/>
<polygon points="451.29,136.56 459.15,130.49 462.46,132.27 454.60,138.43" fill="#4561fc"/>
<polygon points="532.01,87.34 539.87,79.74 543.18,79.48 535.32,87.17" fill="#73cd63"/>
<polygon points="497.24,112.88 505.10,107.53 508.41,107.92 500.55,113.67" fill="#18aedb"/>
<polygon points="413.20,143.63 421.07,140.03 424.38,142.94 416.51,146.26" fill="#484aee"/>
<polygon points="470.33,126.57 478.19,120.96 481.51,122.27 473.64,127.73" fill="#2d88f6"/>
<polygon points="524.14,94.30 532.01,87.34 535.32,87.17 527.45,94.34" fill="#43ca8b"/>
<polygon points="566.78,52.81 574.64,47.74 577.96,48.67 570.09,53.95" fill="#f5ec22"/>
<polygon points="443.42,140.63 451.29,136.56 454.60,138.43 446.73,143.07" fill="#4756f6"/>
<polygon points="489.37,117.27 497.24,112.88 500.55,113.67 492.68,118.43" fill="#20a4e3"/>
<polygon points="424.38,142.94 432.24,140.37 435.56,143.36 427.69,145.80" fill="#484ff1"/>
<polygon points="516.28,101.05 524.14,94.30 527.45,94.34 519.59,101.25" fill="#2ac3a9"/>
<polygon points="405.34,148.78 413.20,143.63 416.51,146.26 408.65,151.19" fill="#463de0"/>
<polygon points="462.46,132.27 470.33,126.57 473.64,127.73 465.78,133.79" fill="#3777fe"/>
<polygon points="558.91,61.23 566.78,52.81 570.09,53.95 562.23,61.44" fill="#fbd32e"/>
<polygon points="551.05,71.34 558.91,61.23 562.23,61.44 554.36,70.91" fill="#f2ba38"/>
<polygon points="508.41,107.92 516.28,101.05 519.59,101.25 511.72,108.04" fill="#05bbc1"/>
<polygon points="435.56,143.36 443.42,140.63 446.73,143.07 438.87,146.29" fill="#4850f2"/>
<polygon points="481.51,122.27 489.37,117.27 492.68,118.43 484.82,123.31" fill="#269ae9"/>
<polygon points="543.18,79.48 551.05,71.34 554.36,70.91 546.50,79.17" fill="#c4c22b"/>
<polygon points="454.60,138.43 462.46,132.27 465.78,133.79 457.91,140.09" fill="#4564fd"/>
<polygon points="416.51,146.26 424.38,142.94 427.69,145.80 419.83,148.88" fill="#4849ed"/>
<polygon points="535.32,87.17 543.18,79.48 546.50,79.17 538.63,86.96" fill="#8bcb51"/>
<polygon points="500.55,113.67 508.41,107.92 511.72,108.04 503.86,114.18" fill="#0fb2d5"/>
<polygon points="473.64,127.73 481.51,122.27 484.82,123.31 476.95,128.56" fill="#2c8ef2"/>
<polygon points="446.73,143.07 454.60,138.43 457.91,140.09 450.05,145.44" fill="#4756f6"/>
<polygon points="570.09,53.95 577.96,48.67 581.27,49.71 573.40,55.46" fill="#f6ef20"/>
<polygon points="527.45,94.34 535.32,87.17 538.63,86.96 530.77,94.29" fill="#56cc7b"/>
<polygon points="427.69,145.80 435.56,143.36 438.87,146.29 431.00,148.64" fill="#484df0"/>
<polygon points="408.65,151.19 416.51,146.26 419.83,148.88 411.96,153.62" fill="#463ddf"/>
<polygon points="492.68,118.43 500.55,113.67 503.86,114.18 495.99,119.33" fill="#1da9e0"/>
<polygon points="519.59,101.25 527.45,94.34 530.77,94.29 522.90,101.44" fill="#33c69e"/>
<polygon points="465.78,133.79 473.64,127.73 476.95,128.56 469.09,134.82" fill="#327cfc"/>
<polygon points="562.23,61.44 570.09,53.95 573.40,55.46 565.54,62.01" fill="#f7db2b"/>
<polygon points="438.87,146.29 446.73,143.07 450.05,145.44 442.18,148.89" fill="#484ff2"/>
<polygon points="554.36,70.91 562.23,61.44 565.54,62.01 557.67,70.41" fill="#febf3c"/>
<polygon points="511.72,108.04 519.59,101.25 522.90,101.44 515.04,108.22" fill="#15bfb7"/>
<polygon points="484.82,123.31 492.68,118.43 495.99,119.33 488.13,124.05" fill="#249fe5"/>
<polygon points="419.83,148.88 427.69,145.80 431.00,148.64 423.14,151.48" fill="#4848ec"/>
<polygon points="457.91,140.09 465.78,133.79 469.09,134.82 461.22,141.48" fill="#4368fd"/>
<polygon points="546.50,79.17 554.36,70.91 557.67,70.41 549.81,78.73" fill="#d9be28"/>
<polygon points="503.86,114.18 511.72,108.04 515.04,108.22 507.17,114.64" fill="#04b6cd"/>
<polygon points="538.63,86.96 546.50,79.17 549.81,78.73 541.94,86.68" fill="#a4c83e"/>
<polygon points="450.05,145.44 457.91,140.09 461.22,141.48 453.36,147.28" fill="#4758f8"/>
<polygon points="431.00,148.64 438.87,146.29 442.18,148.89 434.32,151.38" fill="#484bef"/>
<polygon points="476.95,128.56 484.82,123.31 488.13,124.05 480.26,129.02" fill="#2994ed"/>
<polygon points="573.40,55.46 581.27,49.71 584.58,51.40 576.72,57.22" fill="#f6f21e"/>
<polygon points="411.96,153.62 419.83,148.88 423.14,151.48 415.27,156.09" fill="#463cdf"/>
<polygon points="530.77,94.29 538.63,86.96 541.94,86.68 534.08,94.16" fill="#6bcd69"/>
<polygon points="495.99,119.33 503.86,114.18 507.17,114.64 499.31,120.18" fill="#19addc"/>
<polygon points="565.54,62.01 573.40,55.46 576.72,57.22 568.85,63.04" fill="#f6e028"/>
<polygon points="469.09,134.82 476.95,128.56 480.26,129.02 472.40,135.33" fill="#2e83f9"/>
<polygon points="442.18,148.89 450.05,145.44 453.36,147.28 445.49,150.95" fill="#4850f2"/>
<polygon points="522.90,101.44 530.77,94.29 534.08,94.16 526.21,101.62" fill="#3cc991"/>
<polygon points="423.14,151.48 431.00,148.64 434.32,151.38 426.45,154.11" fill="#4747eb"/>
<polygon points="557.67,70.41 565.54,62.01 568.85,63.04 560.99,70.30" fill="#fec835"/>
<polygon points="488.13,124.05 495.99,119.33 499.31,120.18 491.44,124.80" fill="#20a4e3"/>
<polygon points="461.22,141.48 469.09,134.82 472.40,135.33 464.53,142.48" fill="#406dfe"/>
<polygon points="515.04,108.22 522.90,101.44 526.21,101.62 518.35,108.41" fill="#25c2ad"/>
<polygon points="549.81,78.73 557.67,70.41 560.99,70.30 553.12,78.50" fill="#eaba31"/>
<polygon points="434.32,151.38 442.18,148.89 445.49,150.95 437.63,154.04" fill="#484aee"/>
<polygon points="507.17,114.64 515.04,108.22 518.35,108.41 510.48,115.02" fill="#02bac5"/>
<polygon points="453.36,147.28 461.22,141.48 464.53,142.48 456.67,148.53" fill="#475cfa"/>
<polygon points="576.72,57.22 584.58,51.40 587.89,53.63 580.03,59.08" fill="#f7f31c"/>
<polygon points="415.27,156.09 423.14,151.48 426.45,154.11 418.59,158.60" fill="#463cde"/>
<polygon points="541.94,86.68 549.81,78.73 553.12,78.50 545.25,86.47" fill="#bbc430"/>
<polygon points="480.26,129.02 488.13,124.05 491.44,124.80 483.58,129.55" fill="#269ae9"/>
<polygon points="534.08,94.16 541.94,86.68 545.25,86.47 537.39,93.96" fill="#84cc56"/>
<polygon points="499.31,120.18 507.17,114.64 510.48,115.02 502.62,120.94" fill="#12b1d7"/>
<polygon points="568.85,63.04 576.72,57.22 580.03,59.08 572.16,64.43" fill="#f5e427"/>
<polygon points="445.49,150.95 453.36,147.28 456.67,148.53 448.80,152.69" fill="#4852f4"/>
<polygon points="472.40,135.33 480.26,129.02 483.58,129.55 475.71,135.81" fill="#2d8af5"/>
<polygon points="426.45,154.11 434.32,151.38 437.63,154.04 429.76,156.85" fill="#4745e9"/>
<polygon points="526.21,101.62 534.08,94.16 537.39,93.96 529.53,101.68" fill="#4ccb83"/>
<polygon points="560.99,70.30 568.85,63.04 572.16,64.43 564.30,70.51" fill="#fcd12f"/>
<polygon points="491.44,124.80 499.31,120.18 502.62,120.94 494.75,125.51" fill="#1da9e0"/>
<polygon points="464.53,142.48 472.40,135.33 475.71,135.81 467.85,143.27" fill="#3a73fe"/>
<polygon points="518.35,108.41 526.21,101.62 529.53,101.68 521.66,108.46" fill="#2fc5a2"/>
<polygon points="437.63,154.04 445.49,150.95 448.80,152.69 440.94,156.61" fill="#4849ed"/>
<polygon points="553.12,78.50 560.99,70.30 564.30,70.51 556.43,78.51" fill="#f7ba3d"/>
<polygon points="580.03,59.08 587.89,53.63 591.20,55.92 583.34,61.07" fill="#f7f51b"/>
<polygon points="418.59,158.60 426.45,154.11 429.76,156.85 421.90,161.26" fill="#463adc"/>
<polygon points="456.67,148.53 464.53,142.48 467.85,143.27 459.98,149.69" fill="#4660fb"/>
<polygon points="510.48,115.02 518.35,108.41 521.66,108.46 513.80,115.24" fill="#0ebdbb"/>
<polygon points="483.58,129.55 491.44,124.80 494.75,125.51 486.89,130.11" fill="#239fe5"/>
<polygon points="545.25,86.47 553.12,78.50 556.43,78.51 548.57,86.33" fill="#cfc028"/>
<polygon points="572.16,64.43 580.03,59.08 583.34,61.07 575.47,66.07" fill="#f5e725"/>
<polygon points="502.62,120.94 510.48,115.02 513.80,115.24 505.93,121.54" fill="#07b5d0"/>
<polygon points="537.39,93.96 545.25,86.47 548.57,86.33 540.70,93.63" fill="#9dc943"/>
<polygon points="448.80,152.69 456.67,148.53 459.98,149.69 452.12,154.29" fill="#4854f6"/>
<polygon points="429.76,156.85 437.63,154.04 440.94,156.61 433.07,159.59" fill="#4743e8"/>
<polygon points="475.71,135.81 483.58,129.55 486.89,130.11 479.02,136.14" fill="#2b91ef"/>
<polygon points="529.53,101.68 537.39,93.96 540.70,93.63 532.84,101.57" fill="#60cd72"/>
<polygon points="564.30,70.51 572.16,64.43 575.47,66.07 567.61,71.15" fill="#f9d82c"/>
<polygon points="494.75,125.51 502.62,120.94 505.93,121.54 498.07,126.09" fill="#18addb"/>
<polygon points="467.85,143.27 475.71,135.81 479.02,136.14 471.16,143.68" fill="#337bfc"/>
<polygon points="440.94,156.61 448.80,152.69 452.12,154.29 444.25,158.94" fill="#4849ed"/>
<polygon points="521.66,108.46 529.53,101.68 532.84,101.57 524.97,108.31" fill="#39c994"/>
<polygon points="421.90,161.26 429.76,156.85 433.07,159.59 425.21,163.98" fill="#4639da"/>
<polygon points="583.34,61.07 591.20,55.92 594.52,58.31 586.65,63.35" fill="#f7f51b"/>
<polygon points="556.43,78.51 564.30,70.51 567.61,71.15 559.74,78.77" fill="#febf3b"/>
<polygon points="459.98,149.69 467.85,143.27 471.16,143.68 463.29,150.55" fill="#4466fd"/>
<polygon points="513.80,115.24 521.66,108.46 524.97,108.31 517.11,115.34" fill="#20c1b1"/>
<polygon points="486.89,130.11 494.75,125.51 498.07,126.09 490.20,130.57" fill="#1fa5e2"/>
<polygon points="548.57,86.33 556.43,78.51 559.74,78.77 551.88,86.28" fill="#e0bc2a"/>
<polygon points="575.47,66.07 583.34,61.07 586.65,63.35 578.79,68.11" fill="#f5e825"/>
<polygon points="433.07,159.59 440.94,156.61 444.25,158.94 436.39,162.13" fill="#4743e7"/>
<polygon points="452.12,154.29 459.98,149.69 463.29,150.55 455.43,155.59" fill="#4758f8"/>
<polygon points="505.93,121.54 513.80,115.24 517.11,115.34 509.24,122.06" fill="#01b8c8"/>
<polygon points="540.70,93.63 548.57,86.33 551.88,86.28 544.01,93.26" fill="#b5c533"/>
<polygon points="479.02,136.14 486.89,130.11 490.20,130.57 482.34,136.39" fill="#2798ea"/>
<polygon points="567.61,71.15 575.47,66.07 578.79,68.11 570.92,72.70" fill="#f7db2a"/>
<polygon points="532.84,101.57 540.70,93.63 544.01,93.26 536.15,101.29" fill="#79cc5f"/>
<polygon points="425.21,163.98 433.07,159.59 436.39,162.13 428.52,166.52" fill="#4539d8"/>
<polygon points="498.07,126.09 505.93,121.54 509.24,122.06 501.38,126.60" fill="#0fb2d5"/>
<polygon points="444.25,158.94 452.12,154.29 455.43,155.59 447.56,160.95" fill="#484aee"/>
<polygon points="586.65,63.35 594.52,58.31 597.83,61.13 589.96,65.71" fill="#f7f51b"/>
<polygon points="471.16,143.68 479.02,136.14 482.34,136.39 474.47,143.88" fill="#2e83f9"/>
<polygon points="524.97,108.31 532.84,101.57 536.15,101.29 528.28,107.92" fill="#4bcb83"/>
<polygon points="559.74,78.77 567.61,71.15 570.92,72.70 563.06,79.49" fill="#fec536"/>
<polygon points="463.29,150.55 471.16,143.68 474.47,143.88 466.61,151.13" fill="#406cfe"/>
<polygon points="490.20,130.57 498.07,126.09 501.38,126.60 493.51,130.95" fill="#1babde"/>
<polygon points="517.11,115.34 524.97,108.31 528.28,107.92 520.42,115.17" fill="#2ec4a5"/>
<polygon points="578.79,68.11 586.65,63.35 589.96,65.71 582.10,70.28" fill="#f5e924"/>
<polygon points="436.39,162.13 444.25,158.94 447.56,160.95 439.70,164.60" fill="#4742e6"/>
<polygon points="551.88,86.28 559.74,78.77 563.06,79.49 555.19,86.44" fill="#eeba34"/>
<polygon points="455.43,155.59 463.29,150.55 466.61,151.13 458.74,156.72" fill="#465dfa"/>
<polygon points="509.24,122.06 517.11,115.34 520.42,115.17 512.55,122.28" fill="#08bcbf"/>
<polygon points="544.01,93.26 551.88,86.28 555.19,86.44 547.33,93.00" fill="#cbc129"/>
<polygon points="482.34,136.39 490.20,130.57 493.51,130.95 485.65,136.59" fill="#249ee6"/>
<polygon points="570.92,72.70 578.79,68.11 582.10,70.28 574.23,74.56" fill="#f6dd29"/>
<polygon points="428.52,166.52 436.39,162.13 439.70,164.60 431.83,168.98" fill="#4538d8"/>
<polygon points="589.96,65.71 597.83,61.13 601.14,64.23 593.28,68.15" fill="#f7f41c"/>
<polygon points="447.56,160.95 455.43,155.59 458.74,156.72 450.88,162.78" fill="#484cef"/>
<polygon points="536.15,101.29 544.01,93.26 547.33,93.00 539.46,100.82" fill="#94ca4a"/>
<polygon points="501.38,126.60 509.24,122.06 512.55,122.28 504.69,126.86" fill="#03b6cc"/>
<polygon points="474.47,143.88 482.34,136.39 485.65,136.59 477.78,143.93" fill="#2d8bf3"/>
<polygon points="563.06,79.49 570.92,72.70 574.23,74.56 566.37,80.49" fill="#fdcb33"/>
<polygon points="528.28,107.92 536.15,101.29 539.46,100.82 531.60,107.21" fill="#65cd6e"/>
<polygon points="466.61,151.13 474.47,143.88 477.78,143.93 469.92,151.29" fill="#3875fe"/>
<polygon points="582.10,70.28 589.96,65.71 593.28,68.15 585.41,72.54" fill="#f5e924"/>
<polygon points="439.70,164.60 447.56,160.95 450.88,162.78 443.01,166.99" fill="#4742e6"/>
<polygon points="493.51,130.95 501.38,126.60 504.69,126.86 496.82,131.17" fill="#13b0d7"/>
<polygon points="555.19,86.44 563.06,79.49 566.37,80.49 558.50,86.74" fill="#f9bb3d"/>
<polygon points="520.42,115.17 528.28,107.92 531.60,107.21 523.73,114.35" fill="#3ac993"/>
<polygon points="458.74,156.72 466.61,151.13 469.92,151.29 462.05,157.80" fill="#4561fc"/>
<polygon points="512.55,122.28 520.42,115.17 523.73,114.35 515.87,121.61" fill="#1fc1b1"/>
<polygon points="574.23,74.56 582.10,70.28 585.41,72.54 577.55,76.70" fill="#f6de29"/>
<polygon points="431.83,168.98 439.70,164.60 443.01,166.99 435.15,171.38" fill="#4538d7"/>
<polygon points="547.33,93.00 555.19,86.44 558.50,86.74 550.64,92.83" fill="#ddbd29"/>
<polygon points="485.65,136.59 493.51,130.95 496.82,131.17 488.96,136.71" fill="#1fa5e2"/>
<polygon points="450.88,162.78 458.74,156.72 462.05,157.80 454.19,164.13" fill="#4850f2"/>
<polygon points="539.46,100.82 547.33,93.00 550.64,92.83 542.77,100.15" fill="#afc636"/>
<polygon points="504.69,126.86 512.55,122.28 515.87,121.61 508.00,126.44" fill="#06bcc0"/>
<polygon points="477.78,143.93 485.65,136.59 488.96,136.71 481.09,143.82" fill="#2994ed"/>
<polygon points="566.37,80.49 574.23,74.56 577.55,76.70 569.68,81.81" fill="#fccf30"/>
<polygon points="443.01,166.99 450.88,162.78 454.19,164.13 446.32,169.05" fill="#4743e7"/>
<polygon points="531.60,107.21 539.46,100.82 542.77,100.15 534.91,106.10" fill="#86cb55"/>
<polygon points="469.92,151.29 477.78,143.93 481.09,143.82 473.23,151.09" fill="#307ffb"/>
<polygon points="496.82,131.17 504.69,126.86 508.00,126.44 500.14,131.01" fill="#05b6cd"/>
<polygon points="558.50,86.74 566.37,80.49 569.68,81.81 561.82,87.21" fill="#fec03b"/>
<polygon points="523.73,114.35 531.60,107.21 534.91,106.10 527.04,112.64" fill="#58cc79"/>
<polygon points="462.05,157.80 469.92,151.29 473.23,151.09 465.36,158.67" fill="#4367fd"/>
<polygon points="435.15,171.38 443.01,166.99 446.32,169.05 438.46,173.73" fill="#4538d7"/>
<polygon points="550.64,92.83 558.50,86.74 561.82,87.21 553.95,92.74" fill="#edba33"/>
<polygon points="488.96,136.71 496.82,131.17 500.14,131.01 492.27,136.74" fill="#1aacdd"/>
<polygon points="515.87,121.61 523.73,114.35 527.04,112.64 519.18,119.42" fill="#35c79a"/>
<polygon points="454.19,164.13 462.05,157.80 465.36,158.67 457.50,164.92" fill="#4755f6"/>
<polygon points="542.77,100.15 550.64,92.83 553.95,92.74 546.09,99.28" fill="#cac129"/>
<polygon points="481.09,143.82 488.96,136.71 492.27,136.74 484.41,143.67" fill="#259ce7"/>
<polygon points="508.00,126.44 515.87,121.61 519.18,119.42 511.31,124.95" fill="#23c1af"/>
<polygon points="446.32,169.05 454.19,164.13 457.50,164.92 449.63,170.76" fill="#4745e9"/>
<polygon points="473.23,151.09 481.09,143.82 484.41,143.67 476.54,150.93" fill="#2d88f6"/>
<polygon points="534.91,106.10 542.77,100.15 546.09,99.28 538.22,104.63" fill="#aac73a"/>
<polygon points="500.14,131.01 508.00,126.44 511.31,124.95 503.45,130.38" fill="#05bbc1"/>
<polygon points="438.46,173.73 446.32,169.05 449.63,170.76 441.77,176.08" fill="#4538d7"/>
<polygon points="465.36,158.67 473.23,151.09 476.54,150.93 468.68,159.11" fill="#3f6fff"/>
<polygon points="527.04,112.64 534.91,106.10 538.22,104.63 530.36,110.22" fill="#84cc56"/>
<polygon points="457.50,164.92 465.36,158.67 468.68,159.11 460.81,165.58" fill="#475cfa"/>
<polygon points="492.27,136.74 500.14,131.01 503.45,130.38 495.58,136.67" fill="#0fb2d5"/>
<polygon points="519.18,119.42 527.04,112.64 530.36,110.22 522.49,116.09" fill="#5bcc76"/>
<polygon points="449.63,170.76 457.50,164.92 460.81,165.58 452.95,172.31" fill="#4848ec"/>
<polygon points="484.41,143.67 492.27,136.74 495.58,136.67 487.72,143.47" fill="#21a4e3"/>
<polygon points="511.31,124.95 519.18,119.42 522.49,116.09 514.62,122.54" fill="#38c896"/>
<polygon points="476.54,150.93 484.41,143.67 487.72,143.47 479.85,150.74" fill="#2b91ef"/>
<polygon points="441.77,176.08 449.63,170.76 452.95,172.31 445.08,178.42" fill="#4538d7"/>
<polygon points="468.68,159.11 476.54,150.93 479.85,150.74 471.99,158.92" fill="#3579fd"/>
<polygon points="503.45,130.38 511.31,124.95 514.62,122.54 506.76,129.35" fill="#1fc1b1"/>
<polygon points="460.81,165.58 468.68,159.11 471.99,158.92 464.12,165.93" fill="#4563fd"/>
<polygon points="495.58,136.67 503.45,130.38 506.76,129.35 498.90,136.51" fill="#02b7cb"/>
<polygon points="452.95,172.31 460.81,165.58 464.12,165.93 456.26,173.42" fill="#484df0"/>
<polygon points="487.72,143.47 495.58,136.67 498.90,136.51 491.03,143.19" fill="#1aabdd"/>
<polygon points="445.08,178.42 452.95,172.31 456.26,173.42 448.39,180.77" fill="#4538d7"/>
<polygon points="479.85,150.74 487.72,143.47 491.03,143.19 483.17,150.49" fill="#269ae9"/>
<polygon points="471.99,158.92 479.85,150.74 483.17,150.49 475.30,158.22" fill="#2e85f8"/>
<polygon points="464.12,165.93 471.99,158.92 475.30,158.22 467.44,165.99" fill="#406cfe"/>
<polygon points="456.26,173.42 464.12,165.93 467.44,165.99 459.57,174.20" fill="#4853f4"/>
<polygon points="448.39,180.77 456.26,173.42 459.57,174.20 451.71,183.12" fill="#4538d7"/>
</g>
<line x1="377.60" y1="153.90" x2="377.60" y2="46.61" stroke="#262626" stroke-width="1.4" stroke-linecap="square"/>
<line x1="377.60" y1="153.90" x2="460.40" y2="212.10" stroke="#262626" stroke-width="1.4" stroke-linecap="square"/>
<line x1="460.40" y1="212.10" x2="617.70" y2="181.30" stroke="#262626" stroke-width="1.4" stroke-linecap="square"/>
<line x1="377.60" y1="153.90" x2="373.60" y2="151.50" stroke="#262626" stroke-width="1.2" stroke-linecap="square"/>
<line x1="377.60" y1="106.30" x2="373.60" y2="103.90" stroke="#262626" stroke-width="1.2" stroke-linecap="square"/>
<line x1="377.60" y1="58.70" x2="373.60" y2="56.30" stroke="#262626" stroke-width="1.2" stroke-linecap="square"/>
<line x1="377.60" y1="153.90" x2="373.30" y2="154.80" stroke="#262626" stroke-width="1.2" stroke-linecap="square"/>
<line x1="419.00" y1="183.00" x2="414.70" y2="183.90" stroke="#262626" stroke-width="1.2" stroke-linecap="square"/>
<line x1="460.40" y1="212.10" x2="456.10" y2="213.00" stroke="#262626" stroke-width="1.2" stroke-linecap="square"/>
<line x1="460.40" y1="212.10" x2="464.20" y2="214.80" stroke="#262626" stroke-width="1.2" stroke-linecap="square"/>
<line x1="539.05" y1="196.70" x2="542.85" y2="199.40" stroke="#262626" stroke-width="1.2" stroke-linecap="square"/>
<line x1="617.70" y1="181.30" x2="621.50" y2="184.00" stroke="#262626" stroke-width="1.2" stroke-linecap="square"/>
<text x="368.20" y="155.80" font-size="13.33" text-anchor="middle" fill="#262626">0</text>
<text x="368.20" y="108.20" font-size="13.33" text-anchor="middle" fill="#262626">1</text>
<text x="368.20" y="60.60" font-size="13.33" text-anchor="middle" fill="#262626">2</text>
<text x="370.20" y="169.30" font-size="13.33" text-anchor="end" fill="#262626">1</text>
<text x="411.60" y="198.40" font-size="13.33" text-anchor="end" fill="#262626">0.5</text>
<text x="453.00" y="227.50" font-size="13.33" text-anchor="end" fill="#262626">0</text>
<text x="466.00" y="230.00" font-size="13.33" fill="#262626">0</text>
<text x="544.65" y="214.60" font-size="13.33" fill="#262626">10</text>
<text x="623.30" y="199.20" font-size="13.33" fill="#262626">20</text>
<text transform="translate(358.9,157.3) rotate(-90)" font-size="14.67" textLength="113.0" lengthAdjust="spacing" fill="#262626">Bandwidth (GHz)</text>
<text y="233.4" font-size="14.67" fill="#262626"><tspan x="360.7" font-style="italic">V</tspan><tspan x="370.1" dy="6.9" font-size="11.73">d</tspan><tspan x="380.9" dy="-6.9" font-size="14.67" textLength="20.6" lengthAdjust="spacing">(V)</tspan></text>
<text y="240.6" font-size="14.67" fill="#262626"><tspan x="535.7" font-style="italic">V</tspan><tspan x="544.6" dy="6.3" font-size="11.73">g</tspan><tspan x="555.5" dy="-6.3" font-size="14.67" textLength="20.6" lengthAdjust="spacing">(V)</tspan></text>
<defs><linearGradient id="cb" x1="0" y1="1" x2="0" y2="0">
<stop offset="0.0000" stop-color="#3e26a8"/>
<stop offset="0.0159" stop-color="#402ab4"/>
<stop offset="0.0317" stop-color="#422ec0"/>
<stop offset="0.0476" stop-color="#4332cb"/>
<stop offset="0.0635" stop-color="#4537d5"/>
<stop offset="0.0794" stop-color="#463cde"/>
<stop offset="0.0952" stop-color="#4741e5"/>
<stop offset="0.1111" stop-color="#4747eb"/>
<stop offset="0.1270" stop-color="#484df0"/>
<stop offset="0.1429" stop-color="#4852f4"/>
<stop offset="0.1587" stop-color="#4758f8"/>
<stop offset="0.1746" stop-color="#465efb"/>
<stop offset="0.1905" stop-color="#4563fd"/>
<stop offset="0.2063" stop-color="#4269fe"/>
<stop offset="0.2222" stop-color="#3e6fff"/>
<stop offset="0.2381" stop-color="#3875fe"/>
<stop offset="0.2540" stop-color="#327cfc"/>
<stop offset="0.2698" stop-color="#2f81fa"/>
<stop offset="0.2857" stop-color="#2e87f7"/>
<stop offset="0.3016" stop-color="#2d8cf3"/>
<stop offset="0.3175" stop-color="#2b91ef"/>
<stop offset="0.3333" stop-color="#2797eb"/>
<stop offset="0.3492" stop-color="#259be8"/>
<stop offset="0.3651" stop-color="#23a0e5"/>
<stop offset="0.3810" stop-color="#20a5e3"/>
<stop offset="0.3968" stop-color="#1ca9df"/>
<stop offset="0.4127" stop-color="#18addb"/>
<stop offset="0.4286" stop-color="#12b1d6"/>
<stop offset="0.4444" stop-color="#08b5d0"/>
<stop offset="0.4603" stop-color="#01b8ca"/>
<stop offset="0.4762" stop-color="#02bac3"/>
<stop offset="0.4921" stop-color="#0bbdbd"/>
<stop offset="0.5079" stop-color="#19bfb6"/>
<stop offset="0.5238" stop-color="#24c1ae"/>
<stop offset="0.5397" stop-color="#2cc4a7"/>
<stop offset="0.5556" stop-color="#31c69f"/>
<stop offset="0.5714" stop-color="#37c897"/>
<stop offset="0.5873" stop-color="#3fca8e"/>
<stop offset="0.6032" stop-color="#4acb84"/>
<stop offset="0.6190" stop-color="#57cc7a"/>
<stop offset="0.6349" stop-color="#64cd6f"/>
<stop offset="0.6508" stop-color="#72cd64"/>
<stop offset="0.6667" stop-color="#81cc59"/>
<stop offset="0.6825" stop-color="#8fcb4e"/>
<stop offset="0.6984" stop-color="#9dc943"/>
<stop offset="0.7143" stop-color="#abc739"/>
<stop offset="0.7302" stop-color="#b9c431"/>
<stop offset="0.7460" stop-color="#c5c22a"/>
<stop offset="0.7619" stop-color="#d1bf27"/>
<stop offset="0.7778" stop-color="#dcbd29"/>
<stop offset="0.7937" stop-color="#e6bb2d"/>
<stop offset="0.8095" stop-color="#f0ba36"/>
<stop offset="0.8254" stop-color="#f8ba3d"/>
<stop offset="0.8413" stop-color="#febe3c"/>
<stop offset="0.8571" stop-color="#fec338"/>
<stop offset="0.8730" stop-color="#fec934"/>
<stop offset="0.8889" stop-color="#fccf30"/>
<stop offset="0.9048" stop-color="#fad62d"/>
<stop offset="0.9206" stop-color="#f7dc2a"/>
<stop offset="0.9365" stop-color="#f5e327"/>
<stop offset="0.9524" stop-color="#f5e924"/>
<stop offset="0.9683" stop-color="#f6ef20"/>
<stop offset="0.9841" stop-color="#f7f51b"/>
<stop offset="1.0000" stop-color="#f9fb15"/>
</linearGradient></defs>
<rect x="644.5" y="18.4" width="15.0" height="196.1" fill="url(#cb)" stroke="#262626" stroke-width="1"/>
<line x1="657.3" x2="659.5" y1="185.09" y2="185.09" stroke="#262626" stroke-width="1"/>
<text x="665.2" y="189.99" font-size="13.33" fill="#262626">0.5</text>
<line x1="657.3" x2="659.5" y1="136.06" y2="136.06" stroke="#262626" stroke-width="1"/>
<text x="665.2" y="140.96" font-size="13.33" fill="#262626">1</text>
<line x1="657.3" x2="659.5" y1="87.03" y2="87.03" stroke="#262626" stroke-width="1"/>
<text x="665.2" y="91.94" font-size="13.33" fill="#262626">1.5</text>
<line x1="657.3" x2="659.5" y1="38.01" y2="38.01" stroke="#262626" stroke-width="1"/>
<text x="665.2" y="42.91" font-size="13.33" fill="#262626">2</text>
</svg>
</body></html>
